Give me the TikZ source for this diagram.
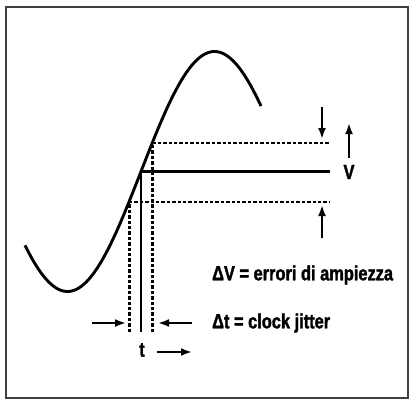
\documentclass[tikz,border=0pt]{standalone}
\usepackage{fontspec}
\newfontfamily\lblfont[FakeStretch=0.8,FakeBold=1.6]{Liberation Sans Bold}
\usetikzlibrary{arrows.meta}
\begin{document}
\begin{tikzpicture}[x=1pt,y=-1pt,
  curve/.style={line width=2.9pt},
  solidline/.style={line width=2.3pt},
  dashline/.style={line width=2.2pt, dash pattern=on 3.4pt off 2pt},
  arr/.style={line width=2.6pt, -{Latex[length=11pt,width=8pt]}},
  lbl/.style={font=\lblfont\fontsize{20.5}{24}\selectfont, inner sep=0pt}]
\useasboundingbox (0,0) rectangle (409,400);
\draw[line width=2.2pt, black!75] (6,7) rectangle (408,398);
% sine curve
\draw[curve] plot[domain=25:261, samples=120] (\x, {171.5-120*sin((\x-141)/147*180)});
% reference points
\coordinate (c0) at (141,171.5);
\coordinate (cu) at (152.4,143);
\coordinate (cl) at (129.4,202);
\coordinate (e0) at (330,171.5);
\coordinate (eu) at (330,143);
\coordinate (el) at (330,202);
\coordinate (b0) at (141,332);
\coordinate (bu) at (152.4,332);
\coordinate (bl) at (129.4,332);
\draw[solidline] (b0) -- (c0) -- (e0);
\draw[dashline] (bu) -- (cu) -- (eu);
\draw[dashline] (bl) -- (cl) -- (el);
% right arrows
\coordinate (a1s) at (322,107);
\coordinate (a1e) at (322,139);
\coordinate (a2s) at (349,158);
\coordinate (a2e) at (349,123);
\coordinate (a3s) at (322,238);
\coordinate (a3e) at (322,205);
\draw[arr] (a1s) -- (a1e);
\draw[arr] (a2s) -- (a2e);
\draw[arr] (a3s) -- (a3e);
\node[lbl] (v) at (349,172) {V};
% bottom arrows
\coordinate (b1s) at (92,323);
\coordinate (b1e) at (126,323);
\coordinate (b2s) at (192,323);
\coordinate (b2e) at (158,323);
\coordinate (b3s) at (157,352);
\coordinate (b3e) at (192,352);
\draw[arr] (b1s) -- (b1e);
\draw[arr] (b2s) -- (b2e);
\draw[arr] (b3s) -- (b3e);
\node[lbl] (t) at (142,350) {t};
% legend
\node[lbl, anchor=west] (dv) at (212,275) {ΔV = errori di ampiezza};
\node[lbl, anchor=west] (dt) at (212,323) {Δt = clock jitter};
\end{tikzpicture}
\end{document}
